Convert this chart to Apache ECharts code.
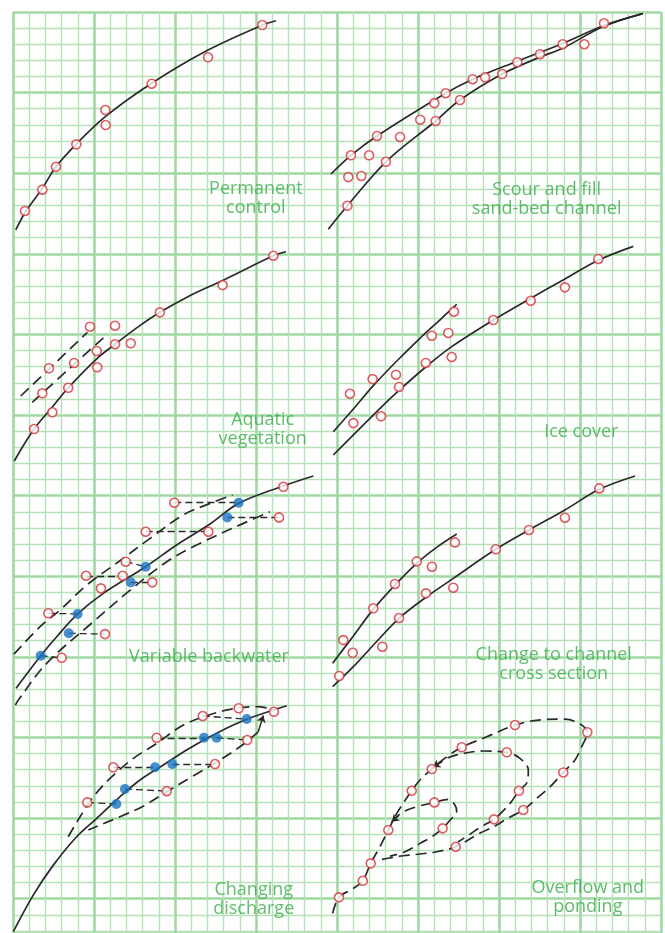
<!DOCTYPE html>
<html>
<head>
<meta charset="utf-8">
<title>Rating curve shapes</title>
<script src="https://cdn.jsdelivr.net/npm/echarts@6/dist/echarts.min.js"></script>
<style>
html, body { margin: 0; padding: 0; background: #fff; }
#chart { width: 665px; height: 933px; }
</style>
</head>
<body>
<div id="chart"></div>
<script>
// all values in graph-paper units: 1 = one small square,
// x counted from the left edge, y counted down from the top edge

// Permanent control
const permCurve = [[0.17,13.52],[0.74,12.45],[1.81,10.94],[2.65,9.60],[3.91,8.19],[5.70,6.49],[8.56,4.42],[12.04,2.36],[15.39,0.81],[16.23,0.54]]
const permPoints = [[0.74,12.34],[1.81,11.02],[2.65,9.60],[3.91,8.21],[5.72,7.01],[5.70,6.08],[8.56,4.45],[12.04,2.81],[15.39,0.81]]

// Scour and fill
const scourUpper = [[19.63,10.05],[20.86,8.89],[22.47,7.69],[26.71,5.04],[28.38,4.17],[31.13,3.05],[33.93,1.95],[36.44,0.85],[38.87,0.1]]
const scourLower = [[19.46,13.48],[20.64,12.02],[23.02,9.29],[26.09,6.76],[27.59,5.46],[30.20,3.85],[32.53,2.80],[33.93,2.25],[36.44,0.9],[38.87,0.1]]
const scourPoints = [[20.86,8.89],[20.70,10.24],[21.50,10.17],[20.64,12.02],[21.98,8.89],[22.47,7.69],[23.02,9.29],[23.89,7.75],[25.14,6.68],[26.09,6.76],[26.01,5.65],[26.71,5.04],[27.59,5.46],[28.38,4.17],[29.14,4.05],[30.20,3.85],[31.13,3.12],[32.53,2.62],[33.93,2.00],[35.27,2.00],[36.48,0.70]]

// Aquatic vegetation
const aquaCurve = [[0.08,27.85],[1.30,25.87],[2.43,24.5],[3.41,23.31],[5.20,21.48],[6.30,20.61],[7.70,19.55],[9.07,18.63],[11.00,17.55],[12.94,16.65],[16.07,15.12],[16.85,14.87]]
const aquaDashUpper = [[0.48,23.82],[2.22,22.15],[4.59,19.87]]
const aquaDashLower = [[1.19,24.21],[3.50,22.10],[5.82,19.99]]
const aquaPoints = [[1.30,25.87],[2.43,24.83],[1.81,23.65],[2.22,22.10],[3.41,23.31],[3.77,21.77],[5.20,22.04],[5.17,21.03],[4.75,19.52],[6.30,20.61],[6.30,19.46],[7.27,20.55],[9.07,18.63],[12.94,16.94],[16.07,15.12]]

// Ice cover
const iceUpper = [[19.77,26.04],[21.01,24.63],[22.24,23.18],[23.69,21.65],[25.12,20.24],[26.36,19.09],[27.39,18.13]]
const iceLower = [[19.77,27.48],[22.72,24.52],[23.83,23.47],[25.48,22.02],[27.08,20.76],[29.65,19.11],[31.96,17.76],[34.07,16.56],[36.13,15.40],[38.29,14.54]]
const icePoints = [[20.80,23.68],[21.01,25.50],[22.20,22.77],[22.72,25.08],[23.64,22.50],[23.83,23.26],[25.48,21.77],[25.85,20.08],[26.87,19.91],[27.08,21.40],[27.22,18.59],[29.65,19.11],[31.96,17.91],[34.07,17.08],[36.13,15.32]]

// Variable backwater
const backCurve = [[0.19,41.95],[1.71,39.93],[2.70,38.75],[3.99,37.34],[5.57,36.06],[8.19,34.41],[10.10,33.06],[12.16,31.76],[13.93,30.48],[16.69,29.40],[18.54,28.78]]
const backDashUpper = [[0.06,39.83],[1.67,38.13],[2.90,37.10],[4.55,35.55],[6.60,34.04],[8.46,32.65],[10.51,31.20],[12.16,30.48],[13.56,29.96]]
const backDashLower = [[0.15,43.0],[0.33,42.68],[2.08,40.40],[4.96,37.82],[7.12,35.96],[9.49,34.10],[11.34,33.06],[14.22,31.72],[15.86,31.00]]
const backMeasured = [[3.01,40.06],[5.68,38.59],[2.18,37.30],[4.51,34.97],[6.77,34.97],[8.60,35.38],[6.96,34.10],[5.43,35.75],[8.19,32.24],[12.06,32.24],[9.96,30.44],[16.42,31.35],[16.69,29.45]]
const backAdjusted = [[1.71,39.93],[3.44,38.54],[3.99,37.34],[7.27,35.38],[8.19,34.41],[13.23,31.35],[13.93,30.44]]
const backLinks = [
  [[1.71,39.93],[3.01,40.06]], [[3.44,38.54],[5.68,38.59]], [[2.18,37.30],[3.99,37.34]],
  [[4.51,34.97],[6.77,34.97]], [[7.27,35.38],[8.60,35.38]], [[6.96,34.10],[8.19,34.41]],
  [[8.19,32.24],[12.06,32.24]], [[9.96,30.44],[13.93,30.44]], [[13.23,31.35],[16.42,31.35]]
]

// Change to channel cross section
const chanUpper = [[19.73,40.40],[21.01,38.7],[22.20,37.10],[23.52,35.61],[24.92,34.20],[26.15,33.21],[27.39,32.38]]
const chanLower = [[19.73,41.85],[21.01,40.61],[22.45,39.05],[23.83,37.61],[25.54,36.27],[27.18,35.13],[29.80,33.33],[31.85,32.13],[34.07,30.89],[36.19,29.61],[38.40,28.78]]
const chanPoints = [[20.39,38.96],[20.97,39.75],[20.14,41.19],[22.24,36.99],[22.80,39.37],[23.58,35.48],[23.83,37.59],[24.92,34.08],[25.86,34.41],[25.49,36.06],[27.18,35.71],[27.28,32.90],[29.80,33.33],[31.85,32.13],[34.07,31.37],[36.19,29.55]]

// Changing discharge
const dischCurve = [[0.02,57.05],[1.25,54.78],[2.49,52.92],[3.93,51.16],[5.17,50.02],[6.60,48.68],[7.84,47.64],[9.28,46.71],[10.72,45.78],[12.16,44.96],[13.60,44.23],[14.83,43.72],[16.90,43.03]]
const dischLoopUpper = [[3.41,51.16],[4.14,49.92],[4.96,48.68],[5.99,47.54],[7.43,46.30],[8.87,45.37],[10.41,44.29],[11.75,43.72],[13.40,43.26],[15.04,43.09],[15.76,43.19]]
const dischLoopLower = [[15.14,44.65],[14.01,45.58],[12.36,46.65],[11.03,47.44],[9.49,48.37],[8.04,49.26],[6.60,49.92],[5.37,50.43],[4.65,50.74]]
const dischMeasured = [[4.59,49.03],[6.19,46.85],[8.87,45.02],[11.71,43.67],[13.93,43.19],[16.11,43.41],[9.49,48.33],[12.47,46.65],[14.46,45.16]]
const dischAdjusted = [[6.38,49.13],[6.91,48.20],[8.77,46.85],[9.83,46.65],[11.79,45.02],[12.57,45.02],[14.43,43.86]]
const dischLinks = [
  [[4.59,49.03],[6.38,49.13]], [[6.91,48.20],[9.49,48.33]], [[6.19,46.85],[8.77,46.85]],
  [[9.83,46.65],[12.47,46.65]], [[8.87,45.02],[11.79,45.02]], [[12.57,45.02],[14.46,45.16]],
  [[11.71,43.67],[14.43,43.86]]
]

// Overflow and ponding
const pondOuter = [[19.73,55.91],[20.12,54.92],[21.01,54.36],[21.59,53.89],[22.08,52.81],[22.65,51.78],[23.17,50.74],[23.69,49.71],[24.61,48.31],[25.12,47.64],[25.85,46.96],[26.77,46.20],[27.70,45.61],[29.24,44.96],[30.99,44.23],[32.43,43.92],[34.07,43.86],[35.00,44.17],[35.45,44.68],[35.10,45.58],[34.69,46.40],[33.97,47.17],[33.15,48.06],[32.33,48.78],[31.50,49.50],[30.56,50.00],[29.75,50.50],[28.83,50.93],[27.33,51.78],[26.15,52.09],[25.12,52.23],[24.09,52.34],[23.07,52.51],[22.53,52.61]]
const pondMiddle = [[25.94,46.85],[26.77,46.30],[27.80,45.99],[29.03,45.84],[30.48,45.92],[31.30,46.30],[31.81,47.02],[31.75,47.75],[31.23,48.31],[30.68,49.09],[29.69,50.08],[28.95,50.50],[28.21,51.00],[27.47,51.49]]
const pondInner = [[23.38,50.23],[23.99,49.67],[24.92,49.30],[26.01,49.03],[26.87,48.84],[27.28,49.19],[27.39,49.61],[26.98,50.12],[26.52,50.64],[25.85,51.16],[25.12,51.57],[24.20,52.09],[23.27,52.36]]
const pondPoints = [[20.12,54.92],[21.59,53.89],[22.08,52.81],[23.17,50.74],[24.61,48.31],[25.85,46.96],[27.70,45.61],[30.99,44.23],[35.45,44.68],[30.48,45.92],[33.97,47.17],[31.23,48.31],[31.50,49.50],[29.69,50.08],[26.01,49.03],[26.52,50.64],[27.33,51.78]]

// direction arrows on the loops: [from, to]
const loopArrows = [
  [[15.14,44.65],[15.45,43.64]],
  [[26.50,46.48],[25.94,46.85]],
  [[23.80,49.85],[23.38,50.23]]
]

// panel captions and where they sit
const captionText = ['Permanent\ncontrol', 'Scour and fill\nsand-bed channel', 'Aquatic\nvegetation', 'Ice cover',
  'Variable backwater', 'Change to channel\ncross section', 'Changing\ndischarge', 'Overflow and\nponding']
const captionAt = [[14.99,11.54],[32.94,11.64],[15.41,25.87],[35.08,26.04],[12.10,39.99],[33.38,40.46],[14.86,55.07],[35.48,54.95]]

const INK = '#2a2a2a'
const RED = '#d8323b'
const BLUE = '#1b73c1'
const MAJOR = '#a0d8a3'
const MINOR = '#b7e2b9'

const chart = echarts.init(document.getElementById('chart'))

function solid(data) {
  return { type: 'line', data, smooth: 0.35, symbol: 'none', z: 3, silent: true,
    lineStyle: { color: INK, width: 1.7 } }
}
function dashed(data) {
  return { type: 'line', data, smooth: 0.35, symbol: 'none', z: 3, silent: true,
    lineStyle: { color: INK, width: 1.7, type: [11, 6] } }
}
function links(pairs) {
  return { type: 'lines', coordinateSystem: 'cartesian2d', z: 3, silent: true,
    data: pairs.map(p => ({ coords: p })),
    lineStyle: { color: INK, width: 1.3, type: [7, 4], opacity: 1 } }
}
function openDots(data) {
  return { type: 'scatter', data, symbol: 'circle', symbolSize: 9, z: 5, silent: true,
    itemStyle: { color: '#fff', borderColor: RED, borderWidth: 1.6 } }
}
function filledDots(data) {
  return { type: 'scatter', data, symbol: 'circle', symbolSize: 10, z: 6, silent: true,
    itemStyle: { color: BLUE } }
}

const paperAxis = {
  type: 'value', min: 0, interval: 5,
  axisLine: { show: false }, axisTick: { show: false }, axisLabel: { show: false },
  splitLine: { show: true, lineStyle: { color: MAJOR, width: 2.6 } },
  minorTick: { show: false, splitNumber: 5 },
  minorSplitLine: { show: true, lineStyle: { color: MINOR, width: 1.4 } }
}

chart.setOption({
  animation: false,
  backgroundColor: '#fff',
  grid: { left: 13, right: 4, top: 12, bottom: 0 },
  xAxis: { ...paperAxis, max: 40 },
  yAxis: { ...paperAxis, max: 57.13, inverse: true },
  series: [
    solid(permCurve), openDots(permPoints),
    solid(scourUpper), solid(scourLower), openDots(scourPoints),
    solid(aquaCurve), dashed(aquaDashUpper), dashed(aquaDashLower), openDots(aquaPoints),
    solid(iceUpper), solid(iceLower), openDots(icePoints),
    solid(backCurve), dashed(backDashUpper), dashed(backDashLower), links(backLinks),
    openDots(backMeasured), filledDots(backAdjusted),
    solid(chanUpper), solid(chanLower), openDots(chanPoints),
    solid(dischCurve), dashed(dischLoopUpper), dashed(dischLoopLower), links(dischLinks),
    openDots(dischMeasured), filledDots(dischAdjusted),
    dashed(pondOuter), dashed(pondMiddle), dashed(pondInner), openDots(pondPoints),
    {
      type: 'lines', coordinateSystem: 'cartesian2d', z: 3, silent: true,
      symbol: ['none', 'arrow'], symbolSize: 7,
      data: loopArrows.map(p => ({ coords: p })),
      lineStyle: { color: INK, width: 1.5, opacity: 1 }
    },
    {
      type: 'scatter', symbolSize: 0, z: 8, silent: true,
      data: captionText.map((t, i) => ({ name: t, value: captionAt[i] })),
      label: {
        show: true, position: 'inside', formatter: '{b}',
        color: '#38ad49', fontSize: 18, lineHeight: 19,
        fontFamily: '"Open Sans", "Noto Sans", sans-serif'
      }
    }
  ]
})
</script>
</body>
</html>
